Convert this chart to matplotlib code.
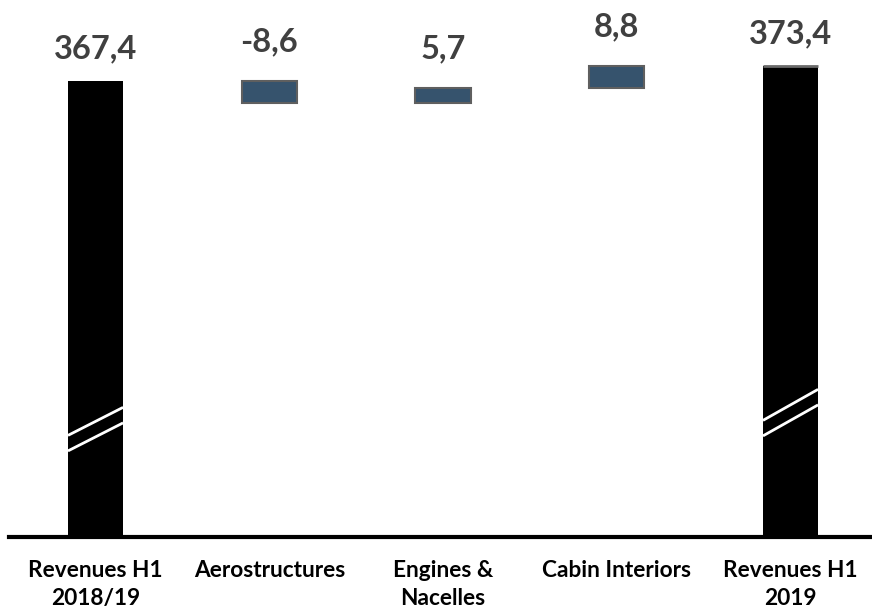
import matplotlib
matplotlib.use("Agg")
import numpy as np
from matplotlib import pyplot as plt

plt.rcParams["font.family"] = ["Lato", "DejaVu Sans"]

out_filename = "out.png"

categories = ["Revenues H1\n2018/19", "Aerostructures", "Engines &\nNacelles",
              "Cabin Interiors", "Revenues H1\n2019"]
start_total = 367.4
changes = [-8.6, 5.7, 8.8]
end_total = 373.4
labels = ["367,4", "-8,6", "5,7", "8,8", "373,4"]

y_min, y_max = 185.0, 399.8
bar_width = 0.317
float_color = "#36536d"
float_edge = "#5f5f5f"
label_color = "#404040"


def main():
    fig = plt.figure(figsize=(8.72, 6.11), dpi=100)
    ax = fig.add_axes([9 / 872, 0.1203, 863 / 872, 1 - 0.1203])

    x = np.arange(len(categories))

    # totals
    totals_x = [x[0], x[-1]]
    totals_y = [start_total, end_total]
    ax.bar(totals_x, [v - y_min for v in totals_y], bottom=y_min,
           width=bar_width, color="black", zorder=2)
    ax.hlines(end_total, x[-1] - bar_width / 2, x[-1] + bar_width / 2,
              color="#6a6a6a", linewidth=2, zorder=3)

    # floating changes
    level = start_total
    tops = [start_total]
    for i, d in enumerate(changes):
        lo, hi = sorted([level, level + d])
        ax.bar(x[i + 1], hi - lo, bottom=lo, width=bar_width,
               color=float_color, edgecolor=float_edge, linewidth=1.5, zorder=2)
        tops.append(hi)
        level += d
    tops.append(end_total)

    # value labels
    for i, (top, text) in enumerate(zip(tops, labels)):
        off = 23 if i in (0, len(labels) - 1) else 30
        ax.annotate(text, (x[i], top), xytext=(0, off), textcoords="offset pixels",
                    ha="center", va="baseline", fontsize=23.5, fontweight="bold",
                    color=label_color)

    # axis break marks
    for xi, y0, rise in [(x[0], 225.8, 11.2), (x[-1], 231.8, 12.4)]:
        xs = [xi - bar_width / 2, xi + bar_width / 2]
        for k in range(2):
            yb = y0 - k * 6.2
            ax.plot(xs, [yb, yb + rise], color="white", linewidth=2,
                    solid_capstyle="butt", zorder=4)

    ax.set_xlim(-0.498, 4.469)
    ax.set_ylim(y_min, y_max)
    ax.set_xticks(x)
    ax.set_xticklabels(categories, fontsize=16.3, fontweight="bold",
                       linespacing=1.42, va="top")
    ax.tick_params(axis="x", length=0, pad=16)
    ax.set_yticks([])
    for s in ["top", "right", "left"]:
        ax.spines[s].set_visible(False)
    ax.spines["bottom"].set_linewidth(3)
    ax.spines["bottom"].set_color("black")

    fig.savefig(out_filename, dpi=100)


if __name__ == "__main__":
    main()
